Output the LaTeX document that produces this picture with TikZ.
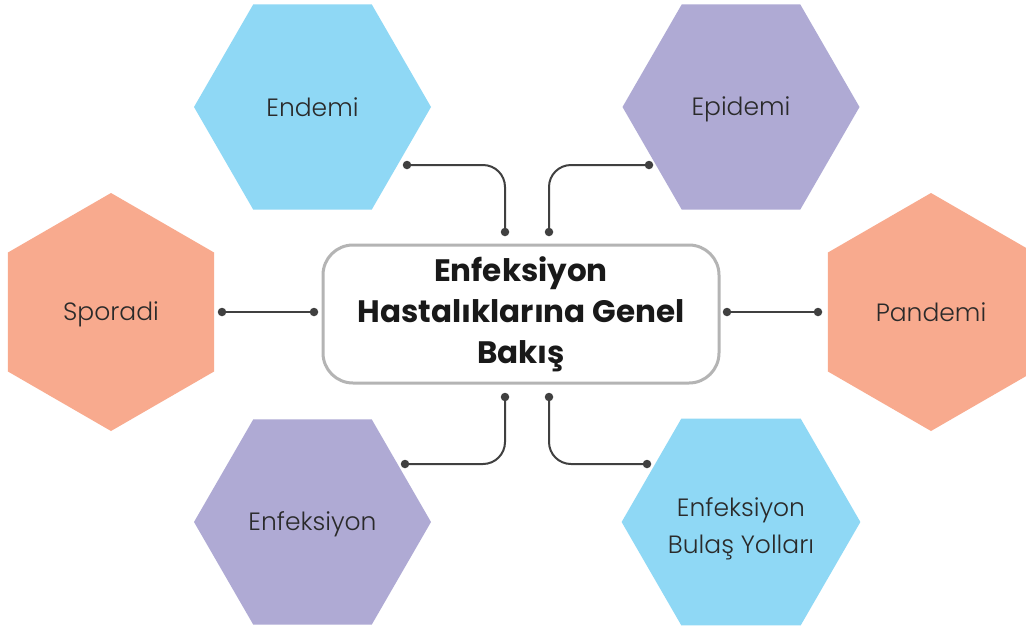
\documentclass[tikz,border=0pt]{standalone}
\usepackage{fontspec}
\setmainfont{Poppins}
\newfontfamily\lightfont{Poppins Light}
\usetikzlibrary{shapes.geometric}
\definecolor{hblue}{HTML}{8FD8F5}
\definecolor{hpurple}{HTML}{AFAAD4}
\definecolor{hsalmon}{HTML}{F8AA8E}
\definecolor{lineg}{HTML}{404040}
\definecolor{boxg}{HTML}{B4B4B4}
\definecolor{txt}{HTML}{2A2A2A}
\begin{document}
\begin{tikzpicture}[x=1pt,y=-1pt,
 hexh/.style={regular polygon, regular polygon sides=6, minimum size=237pt, inner sep=0pt,
   font=\lightfont\fontsize{25}{37}\selectfont, text=txt, align=center},
 hexv/.style={hexh, shape border rotate=90, minimum size=238pt},
 dotn/.style={circle, fill=lineg, inner sep=0pt, minimum size=8.5pt},
 conn/.style={draw=lineg, line width=2pt, rounded corners=22pt}]
\useasboundingbox (0,0) rectangle (1026,630);
\clip (0,0) rectangle (1026,630);
\fill[white] (0,0) rectangle (1026,630);
% hexagons
\node[hexh, fill=hblue] (endemi) at (312.5,107) {Endemi};
\node[hexh, fill=hpurple] (epidemi) at (741,107) {\rule{0pt}{24pt}Epidemi};
\node[hexv, fill=hsalmon] (sporadi) at (111,312) {\rule{0pt}{23pt}Sporadi};
\node[hexv, fill=hsalmon] (pandemi) at (931,312) {Pandemi};
\node[hexh, fill=hpurple] (enf) at (312.5,522) {\rule{0pt}{24pt}Enfeksiyon};
\node[hexh, fill=hblue] (bulas) at (741,522) {\rule{0pt}{33pt}Enfeksiyon\\Bulaş Yolları};
% central box
\node[draw=boxg, line width=3pt, rounded corners=30pt, fill=white,
  minimum width=396pt, minimum height=138pt, inner sep=0pt, align=center,
  font=\bfseries\fontsize{31}{41}\selectfont, text=black!90] (center) at (521,314)
  {Enfeksiyon\\Hastalıklarına Genel\\Bakış};
% dots
\node[dotn] (e1) at (407,165) {};
\node[dotn] (e2) at (505,232) {};
\node[dotn] (p1) at (649,165) {};
\node[dotn] (p2) at (549,232) {};
\node[dotn] (f1) at (405,464) {};
\node[dotn] (f2) at (505,397) {};
\node[dotn] (b1) at (647,464) {};
\node[dotn] (b2) at (549,397) {};
\node[dotn] (s1) at (222,312) {};
\node[dotn] (s2) at (314,312) {};
\node[dotn] (n1) at (727,312) {};
\node[dotn] (n2) at (818,312) {};
% connectors
\draw[conn] (e1.center) -| (e2.center);
\draw[conn] (p1.center) -| (p2.center);
\draw[conn] (f2.center) |- (f1.center);
\draw[conn] (b2.center) |- (b1.center);
\draw[conn] (s1.center) -- (s2.center);
\draw[conn] (n1.center) -- (n2.center);
\end{tikzpicture}
\end{document}
